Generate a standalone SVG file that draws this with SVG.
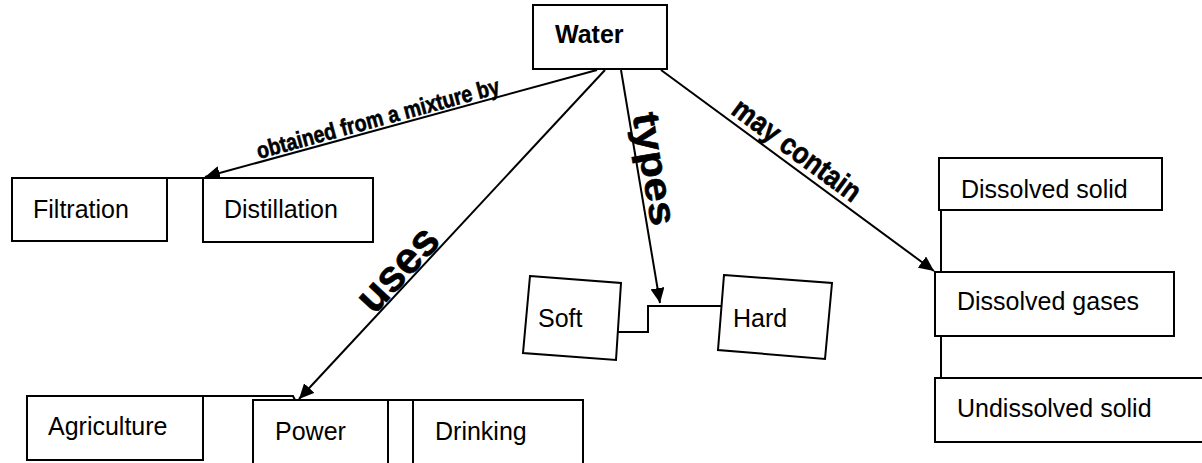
<svg xmlns="http://www.w3.org/2000/svg" width="1202" height="463" viewBox="0 0 1202 463">
<style>
.box{fill:#fff;stroke:#000;stroke-width:2}
.lbl{font-family:"Liberation Sans",Arial,sans-serif;font-size:25px;fill:#000}
.elbl{font-family:"Liberation Sans",Arial,sans-serif;font-weight:bold;fill:#000;stroke:#000;stroke-width:0.6}
.con{fill:none;stroke:#000;stroke-width:2}
</style>
<defs>
<marker id="arr" markerUnits="userSpaceOnUse" markerWidth="16" markerHeight="14" refX="15" refY="7" orient="auto">
<path d="M0,0 L15,7 L0,14 z" fill="#000"/>
</marker>
</defs>
<rect width="1202" height="463" fill="#fff"/>
<g id="connectors">
<line class="con" x1="597" y1="70" x2="205" y2="177" marker-end="url(#arr)"/>
<line class="con" x1="605" y1="70" x2="299" y2="399" marker-end="url(#arr)"/>
<line class="con" x1="621" y1="70" x2="660" y2="303" marker-end="url(#arr)"/>
<line class="con" x1="661" y1="70" x2="934" y2="271" marker-end="url(#arr)"/>
<polyline class="con" points="167,178 203,178"/>
<polyline class="con" points="203,396 293,396 295,400"/>
<polyline class="con" points="388,400 413,400"/>
<polyline class="con" points="618,332 648,332 648,306 722,306"/>
<line class="con" x1="941" y1="210" x2="941" y2="272"/>
<line class="con" x1="941" y1="336" x2="941" y2="378"/>
<text class="elbl" font-size="23" x="380" y="126" text-anchor="middle" textLength="251" lengthAdjust="spacingAndGlyphs" transform="rotate(-15.2 380 126)">obtained from a mixture by</text>
<text class="elbl" font-size="44" x="408" y="279" text-anchor="middle" textLength="100" lengthAdjust="spacingAndGlyphs" transform="rotate(-47 408 279)">uses</text>
<text class="elbl" font-size="38" x="642" y="171" text-anchor="middle" textLength="114" lengthAdjust="spacingAndGlyphs" transform="rotate(80.5 642 171)">types</text>
<text class="elbl" font-size="30" x="791" y="158" text-anchor="middle" textLength="152" lengthAdjust="spacingAndGlyphs" transform="rotate(36.4 791 158)">may contain</text>
</g>
<g id="water">
<rect class="box" x="533" y="5" width="134" height="64"/>
<text class="lbl" x="555" y="43" font-weight="bold" font-size="24">Water</text>
</g>
<g id="filtration">
<rect class="box" x="12" y="178" width="155" height="63"/>
<text class="lbl" x="33" y="218" font-size="26">Filtration</text>
</g>
<g id="distillation">
<rect class="box" x="203" y="178" width="170" height="64"/>
<text class="lbl" x="224" y="218" font-size="26">Distillation</text>
</g>
<g id="soft">
<polygon class="box" points="530,276 621,283 616,360 523,353"/>
<text class="lbl" x="538" y="327">Soft</text>
</g>
<g id="hard">
<polygon class="box" points="724,275 832,283 825,359 718,350"/>
<text class="lbl" x="733" y="327">Hard</text>
</g>
<g id="dissolved-solid">
<rect class="box" x="939" y="158" width="223" height="52"/>
<text class="lbl" x="961" y="198">Dissolved solid</text>
</g>
<g id="dissolved-gases">
<rect class="box" x="935" y="272" width="239" height="64"/>
<text class="lbl" x="957" y="310">Dissolved gases</text>
</g>
<g id="undissolved-solid">
<rect class="box" x="935" y="378" width="280" height="64"/>
<text class="lbl" x="957" y="417">Undissolved solid</text>
</g>
<g id="agriculture">
<rect class="box" x="27" y="396" width="176" height="64"/>
<text class="lbl" x="48" y="435">Agriculture</text>
</g>
<g id="power">
<rect class="box" x="253" y="400" width="135" height="75"/>
<text class="lbl" x="275" y="440">Power</text>
</g>
<g id="drinking">
<rect class="box" x="413" y="400" width="170" height="75"/>
<text class="lbl" x="435" y="440">Drinking</text>
</g>
</svg>
